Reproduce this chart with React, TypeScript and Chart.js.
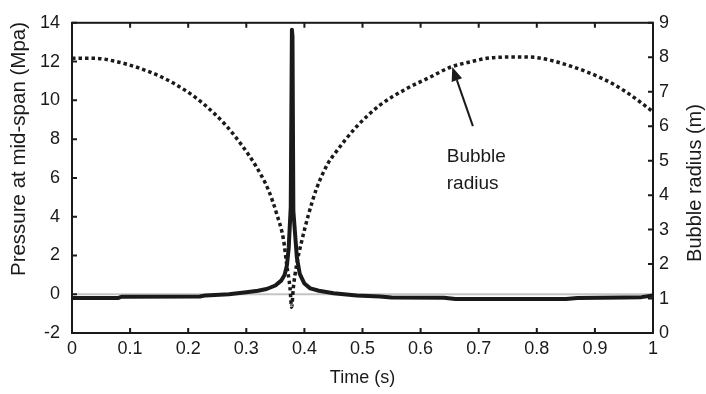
import React, { useEffect, useRef } from "react";
import { Chart, registerables } from "chart.js";

Chart.register(...registerables);

// ---- data ----
const xTicks = [0, 0.1, 0.2, 0.3, 0.4, 0.5, 0.6, 0.7, 0.8, 0.9, 1];
const yLeftTicks = [-2, 0, 2, 4, 6, 8, 10, 12, 14];
const yRightTicks = [0, 1, 2, 3, 4, 5, 6, 7, 8, 9];

const timeP = [
  0, 0.08, 0.085, 0.22, 0.23, 0.27, 0.3, 0.32, 0.335, 0.35, 0.36, 0.366, 0.37,
  0.373, 0.375, 0.3765, 0.3785, 0.3795, 0.381, 0.384, 0.387, 0.392, 0.4, 0.41,
  0.425, 0.45, 0.49, 0.53, 0.55, 0.64, 0.66, 0.85, 0.87, 0.95, 0.98, 1.0,
];
const pressure = [
  -0.19, -0.19, -0.13, -0.12, -0.06, 0.0, 0.1, 0.18, 0.27, 0.45, 0.7, 1.0, 1.5,
  2.4, 3.6, 4.5, 13.64, 13.3, 4.3, 3.1, 1.9, 1.05, 0.55, 0.3, 0.18, 0.05, -0.07,
  -0.12, -0.17, -0.18, -0.25, -0.25, -0.19, -0.17, -0.15, -0.07,
];

const timeR = [
  0, 0.04, 0.075, 0.115, 0.155, 0.195, 0.229, 0.264, 0.29, 0.318, 0.3385, 0.353,
  0.364, 0.3695, 0.3752, 0.378, 0.381, 0.3867, 0.3953, 0.4068, 0.4211, 0.4412,
  0.4498, 0.49, 0.53, 0.576, 0.616, 0.651, 0.697, 0.714, 0.771, 0.8, 0.857,
  0.9145, 0.954, 1.0,
];
const radius = [
  7.97, 7.97, 7.88, 7.69, 7.42, 7.04, 6.61, 6.04, 5.5, 4.8, 4.13, 3.42, 2.71,
  1.99, 1.32, 0.75, 1.32, 1.99, 2.66, 3.42, 4.2, 4.94, 5.15, 5.99, 6.61, 7.09,
  7.42, 7.71, 7.91, 7.97, 8.01, 7.99, 7.75, 7.37, 6.99, 6.42,
];

const baselineTime = [0, 1];
const baselinePressure = [0, 0];

const xTitle = "Time (s)";
const yLeftTitle = "Pressure at mid-span (Mpa)";
const yRightTitle = "Bubble radius (m)";
const noteLines = ["Bubble", "radius"];

const FONT = "'Liberation Sans', Arial, Helvetica, sans-serif";
const INK = "#1a1a1a";

const decorPlugin = {
  id: "decor",
  afterDatasetsDraw(chart: any) {
    const { ctx, chartArea: a, scales } = chart;
    const xs = scales.x;
    const yl = scales.y;
    const yr = scales.y1;
    ctx.save();
    // frame
    ctx.strokeStyle = INK;
    ctx.lineWidth = 2;
    ctx.strokeRect(a.left, a.top, a.right - a.left, a.bottom - a.top);
    // inward tick marks
    const L = 5;
    ctx.beginPath();
    for (const v of xTicks) {
      const px = xs.getPixelForValue(v);
      ctx.moveTo(px, a.bottom);
      ctx.lineTo(px, a.bottom - L);
      ctx.moveTo(px, a.top);
      ctx.lineTo(px, a.top + L);
    }
    for (const v of yLeftTicks) {
      const py = yl.getPixelForValue(v);
      ctx.moveTo(a.left, py);
      ctx.lineTo(a.left + L, py);
    }
    for (const v of yRightTicks) {
      const py = yr.getPixelForValue(v);
      ctx.moveTo(a.right, py);
      ctx.lineTo(a.right - L, py);
    }
    ctx.stroke();

    // axis titles
    ctx.fillStyle = INK;
    ctx.font = `18px ${FONT}`;
    ctx.textAlign = "center";
    ctx.textBaseline = "middle";
    ctx.fillText(xTitle, (a.left + a.right) / 2, 378);

    ctx.font = `20.5px ${FONT}`;
    ctx.save();
    ctx.translate(19, 149);
    ctx.rotate(-Math.PI / 2);
    ctx.fillText(yLeftTitle, 0, 0);
    ctx.restore();

    ctx.font = `20px ${FONT}`;
    ctx.save();
    ctx.translate(695, 183);
    ctx.rotate(-Math.PI / 2);
    ctx.fillText(yRightTitle, 0, 0);
    ctx.restore();

    // annotation
    ctx.font = `19px ${FONT}`;
    ctx.textAlign = "left";
    const tx = xs.getPixelForValue(0.645);
    ctx.fillText(noteLines[0], tx, yr.getPixelForValue(5.1));
    ctx.fillText(noteLines[1], tx, yr.getPixelForValue(4.33));

    const x0 = xs.getPixelForValue(0.69);
    const y0 = yr.getPixelForValue(6.0);
    const x1 = xs.getPixelForValue(0.6545);
    const y1 = yr.getPixelForValue(7.72);
    const ang = Math.atan2(y1 - y0, x1 - x0);
    const head = 14;
    const hw = 5.5;
    const bx = x1 - head * Math.cos(ang);
    const by = y1 - head * Math.sin(ang);
    ctx.strokeStyle = INK;
    ctx.lineWidth = 2;
    ctx.beginPath();
    ctx.moveTo(x0, y0);
    ctx.lineTo(bx, by);
    ctx.stroke();
    ctx.beginPath();
    ctx.moveTo(x1, y1);
    ctx.lineTo(bx + hw * Math.sin(ang), by - hw * Math.cos(ang));
    ctx.lineTo(bx - hw * Math.sin(ang), by + hw * Math.cos(ang));
    ctx.closePath();
    ctx.fill();
    ctx.restore();
  },
};

export default function App() {
  const ref = useRef<HTMLCanvasElement | null>(null);

  useEffect(() => {
    document.body.style.margin = "0";
    const canvas = ref.current;
    if (!canvas) return;

    const tickFont = { family: FONT, size: 18 };
    const chart = new Chart(canvas, {
      type: "line",
      data: {
        datasets: [
          {
            label: "zero",
            data: baselineTime.map((t, i) => ({ x: t, y: baselinePressure[i] })),
            yAxisID: "y",
            borderColor: "#c4c4c4",
            borderWidth: 2,
            pointRadius: 0,
            order: 3,
          },
          {
            label: "Bubble radius",
            data: timeR.map((t, i) => ({ x: t, y: radius[i] })),
            yAxisID: "y1",
            borderColor: INK,
            borderWidth: 3.5,
            borderDash: [3.5, 3],
            borderCapStyle: "butt",
            pointRadius: 0,
            cubicInterpolationMode: "monotone",
            order: 2,
          },
          {
            label: "Pressure",
            data: timeP.map((t, i) => ({ x: t, y: pressure[i] })),
            yAxisID: "y",
            borderColor: INK,
            borderWidth: 4,
            pointRadius: 0,
            tension: 0,
            borderJoinStyle: "round",
            order: 1,
          },
        ],
      },
      options: {
        responsive: false,
        animation: false,
        devicePixelRatio: 1,
        layout: { padding: { top: 18, left: 0, right: 0, bottom: 0 } },
        plugins: {
          legend: { display: false },
          tooltip: { enabled: false },
        },
        scales: {
          x: {
            type: "linear",
            min: 0,
            max: 1,
            afterBuildTicks: (s: any) => {
              s.ticks = xTicks.map((v) => ({ value: v }));
            },
            afterFit: (s: any) => {
              s.height = 61;
            },
            grid: { display: false, drawTicks: false },
            border: { display: false },
            ticks: {
              color: INK,
              font: tickFont,
              padding: 5,
              autoSkip: false,
              maxRotation: 0,
              callback: (v: any) => String(v),
            },
          },
          y: {
            type: "linear",
            position: "left",
            min: -2,
            max: 14,
            afterBuildTicks: (s: any) => {
              s.ticks = yLeftTicks.map((v) => ({ value: v }));
            },
            afterFit: (s: any) => {
              s.width = 72;
            },
            grid: { display: false, drawTicks: false },
            border: { display: false },
            ticks: {
              color: INK,
              font: tickFont,
              padding: 12,
              autoSkip: false,
              callback: (v: any) => String(v),
            },
          },
          y1: {
            type: "linear",
            position: "right",
            min: 0,
            max: 9,
            afterBuildTicks: (s: any) => {
              s.ticks = yRightTicks.map((v) => ({ value: v }));
            },
            afterFit: (s: any) => {
              s.width = 53;
            },
            grid: { display: false, drawTicks: false },
            border: { display: false },
            ticks: {
              color: INK,
              font: tickFont,
              padding: 6,
              autoSkip: false,
              callback: (v: any) => String(v),
            },
          },
        },
      },
      plugins: [decorPlugin],
    } as any);

    return () => chart.destroy();
  }, []);

  return (
    <div style={{ width: 706, height: 394 }}>
      <canvas ref={ref} width={706} height={394} style={{ display: "block" }} />
    </div>
  );
}
